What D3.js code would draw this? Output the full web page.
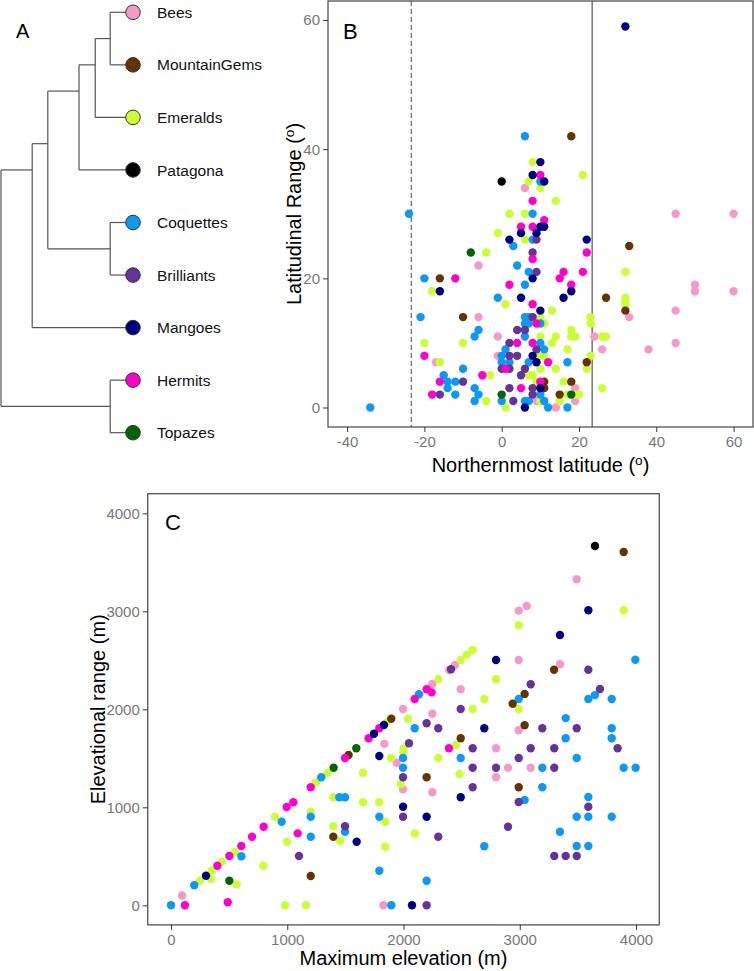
<!DOCTYPE html>
<html>
<head>
<meta charset="utf-8">
<script src="https://cdn.jsdelivr.net/npm/d3@7"></script>
<style>
  html, body { margin: 0; padding: 0; background: #fff; }
  svg { display: block; }
  text { font-family: "Liberation Sans", Arial, sans-serif; }
</style>
</head>
<body>
<svg id="chart" width="754" height="971"></svg>
<script>
// ---------------- DATA ----------------
const cladeNames  = ["Bees","MountainGems","Emeralds","Patagona","Coquettes","Brilliants","Mangoes","Hermits","Topazes"];
const cladeColors = ["#f799c8","#663300","#ccff33","#000000","#0a99f5","#663399","#000080","#ff00cc","#006600"];

// tree: [node, parent, age]
const treeNodes = [
  ["root", null, 22], ["n1", "root", 16.8], ["n2", "n1", 14.2], ["n3", "n2", 9.0],
  ["n4", "n3", 6.3], ["n5", "n4", 3.8], ["n6", "n2", 3.8], ["n7", "root", 3.8],
  ["Bees", "n5", 0], ["MountainGems", "n5", 0], ["Emeralds", "n4", 0], ["Patagona", "n3", 0],
  ["Coquettes", "n6", 0], ["Brilliants", "n6", 0], ["Mangoes", "n1", 0],
  ["Hermits", "n7", 0], ["Topazes", "n7", 0]
];

// Panel B: [northernmost latitude, latitudinal range]
const latBees = [[6,34],[45,30],[60,30],[-6,22],[50,19],[50,18],[60,18],[45,15],[-6,14],[33,14],[-1,11],[24,11],[45,10],[26,9],[38,9],[-1,8],[-17,7],[19,3],[9,1],[19,1],[14,0]];
const latMountainGems = [[18,42],[33,25],[-16,20],[27,17],[32,15],[-10,14],[22,7],[11,4],[18,4],[11,3],[15,2]];
const latEmeralds = [[8,38],[21,36],[7,35],[10,34],[14,32],[2,30],[6,30],[-1,27],[6,26],[-4,24],[32,21],[-18,18],[32,17],[1,16],[32,16.4],[32,15.8],[13,15],[10,14],[23,14],[11,13],[23,13],[18,12],[10,11],[14,11],[18,11],[19,11],[26,11],[27,11],[-20,10],[-10,10],[13,10],[17,9],[10,8],[11,8],[23,8],[-16,7],[10,6],[14,6],[22,6],[-3,5],[7,5],[8,5],[9,4],[16,4],[26,3],[17,2],[19,2],[20,2],[-4,1],[10,1],[15,1],[1,0]];
const latPatagona = [[0,35]];
const latCoquettes = [[-24,30],[6,42],[10,35],[8,30],[8,26],[3,25],[4,22],[7,21],[-20,20],[6,19],[-1,17],[-21,14],[6,14],[7,14],[6,13],[7,13],[10,13],[-6,12],[-7,11],[6,11],[10,10],[1,9],[11,9],[0,8],[0,7],[2,7],[7,7],[17,7],[-10,6],[-15,5],[-14,4],[-12,4],[-14,3],[-7,3],[-12,2],[-6,2],[10,2],[-7,1],[0,1],[6,1],[7,1],[11,1],[-34,0],[12,0],[17,0]];
const latBrilliants = [[9,26],[8,24],[9,21],[8,14],[4,12],[6,12],[2,10],[9,9],[2,8],[4,8],[0,6],[2,6],[6,6],[5,5],[-10,4],[2,3],[8,3],[-16,2],[8,2],[3,1]];
const latMangoes = [[32,59],[10,38],[8,36],[11,35],[10,28],[11,28],[5,27],[9,27],[2,26],[22,26],[8,20],[-16,18],[18,18],[5,17],[16,17],[10,15],[8,8],[9,7],[10,3],[6,0]];
const latHermits = [[10,36],[8,32],[11,29],[5,28],[8,28],[22,24],[8,23],[16,21],[21,21],[-12,20],[15,20],[2,19],[18,19],[8,16],[9,13],[4,10],[8,10],[-20,8],[12,7],[1,6],[-5,5],[-16,4],[10,4],[5,3],[-18,2]];
const latTopazes = [[-8,24],[0,2],[18,2]];
const tropicLines = [-23.4, 23.4];

// Panel C: [maximum elevation, elevational range]
const elevBees = [[95,100],[1827,0],[1835,1647],[1941,1455],[1996,2003],[1996,1184],[2248,1955],[2248,2258],[2248,1153],[2443,2452],[2394,2401],[2492,2204],[2796,1602],[2796,1306],[2899,1404],[2991,1786],[2991,2503],[2991,3007],[3060,3054],[3094,1404],[3346,2459],[3490,3327]];
const elevMountainGems = [[1202,299],[1396,700],[1528,1534],[1895,1904],[2199,1306],[2492,1704],[2939,2057],[2991,1204],[3042,2156],[3042,1837],[3295,2404],[3894,3605]];
const elevEmeralds = [[249,251],[344,268],[350,353],[437,444],[551,547],[565,214],[794,404],[895,904],[981,0],[1161,0],[998,649],[1202,955],[1247,1255],[1348,1353],[1396,1102],[1396,806],[1454,659],[1652,1353],[1652,1051],[1792,1051],[1843,853],[1843,598],[1860,1870],[1892,1503],[2000,1600],[2000,1560],[1976,1238],[2039,1904],[2096,734],[2299,2306],[2299,1503],[2452,1636],[2483,1340],[2492,2503],[2544,2558],[2595,2605],[2595,2003],[2695,2105],[2796,2306],[2991,2003],[2991,2857],[3894,3010]];
const elevPatagona = [[3647,3666]];
const elevCoquettes = [[0,0],[200,204],[605,500],[952,853],[1202,904],[1202,700],[1293,1306],[1448,1102],[1497,1102],[1497,751],[1792,904],[1792,353],[1895,0],[1996,1503],[1996,1404],[2096,1806],[2133,2153],[2199,251],[2492,1503],[2695,602],[2991,2105],[3042,1074],[3194,1404],[3194,1204],[3346,751],[3395,1910],[3395,1704],[3490,1503],[3490,904],[3490,605],[3590,2105],[3590,1105],[3590,904],[3590,605],[3647,2145],[3791,2105],[3791,1806],[3791,1704],[3791,904],[3894,1404],[3997,1404],[3994,2506]];
const elevBrilliants = [[1101,503],[1497,806],[1996,1306],[1996,904],[2047,1653],[2199,1857],[2199,0],[2299,1806],[2299,700],[2409,2409],[2492,2003],[2595,1602],[2595,1404],[2595,1204],[2796,1404],[2899,802],[2991,1503],[2991,1054],[3094,2255],[3094,1602],[3194,1806],[3297,1602],[3297,1404],[3297,503],[3395,503],[3490,503],[3490,1806],[3590,2404],[3590,1006],[3690,2207],[3842,1602]];
const elevMangoes = [[301,302],[1597,649],[1746,1751],[1792,1523],[1832,1840],[1996,1006],[2073,0],[2199,904],[2492,1102],[2695,1806],[2796,2503],[3346,2758],[3590,3010]];
const elevHermits = [[120,0],[399,404],[488,31],[502,503],[605,605],[697,700],[797,802],[995,1003],[1052,1051],[1090,734],[1202,1204],[1497,1503],[1700,1704],[1792,1806],[2096,2105],[2199,2204],[2242,2173],[2391,1602]];
const elevTopazes = [[502,251],[1399,1404],[1594,1602]];

const latTicksX = [-40,-20,0,20,40,60];
const latTicksY = [0,20,40,60];
const elevTicks = [0,1000,2000,3000,4000];

// ---------------- DRAW ----------------
const svg = d3.select("#chart");
const color = d3.scaleOrdinal().domain(cladeNames).range(cladeColors);
const drawOrder = ["Bees","Emeralds","Coquettes","Brilliants","MountainGems","Hermits","Mangoes","Topazes","Patagona"];
const latSets = {Bees:latBees, MountainGems:latMountainGems, Emeralds:latEmeralds, Patagona:latPatagona, Coquettes:latCoquettes, Brilliants:latBrilliants, Mangoes:latMangoes, Hermits:latHermits, Topazes:latTopazes};
const elevSets = {Bees:elevBees, MountainGems:elevMountainGems, Emeralds:elevEmeralds, Patagona:elevPatagona, Coquettes:elevCoquettes, Brilliants:elevBrilliants, Mangoes:elevMangoes, Hermits:elevHermits, Topazes:elevTopazes};
const flatten = sets => drawOrder.flatMap(g => sets[g].map(d => ({g, x: d[0], y: d[1]})));

// ---- Panel A: tree ----
const gA = svg.append("g");
const root = d3.stratify().id(d => d[0]).parentId(d => d[1])(treeNodes);
const ageScale = d3.scaleLinear().domain([22, 0]).range([1, 133]);
const leafY = d3.scalePoint().domain(cladeNames).range([12.3, 432.7]);
root.each(n => {
  n.px = ageScale(n.data[2]);
  n.py = d3.mean(n.leaves(), l => leafY(l.id));
});
const lineCol = "#555";
root.descendants().forEach(n => {
  if (n.parent) {
    gA.append("line").attr("x1", n.parent.px).attr("x2", n.px).attr("y1", n.py).attr("y2", n.py)
      .attr("stroke", lineCol).attr("stroke-width", 1.2);
  }
  if (n.children) {
    const ys = n.children.map(c => c.py);
    gA.append("line").attr("x1", n.px).attr("x2", n.px).attr("y1", d3.min(ys)).attr("y2", d3.max(ys))
      .attr("stroke", lineCol).attr("stroke-width", 1.2);
  }
});
const leaves = root.leaves();
gA.selectAll("circle.leaf").data(leaves).join("circle")
  .attr("cx", d => d.px).attr("cy", d => d.py).attr("r", 7.3)
  .attr("fill", d => color(d.id)).attr("stroke", "#333").attr("stroke-width", 1);
gA.selectAll("text.leaf").data(leaves).join("text")
  .attr("x", d => d.px + 24).attr("y", d => d.py).attr("dy", "0.36em")
  .attr("font-size", 15.5).attr("fill", "#111").text(d => d.id);
gA.append("text").attr("x", 16).attr("y", 38).attr("font-size", 20).text("A");

// helper for degree titles
function degTitle(sel, label) {
  sel.append("tspan").text(label + " (");
  sel.append("tspan").attr("font-size", "0.68em").attr("dy", "-0.55em").text("o");
  sel.append("tspan").attr("dy", "0.37em").text(")");
}

function styleAxis(g) {
  g.select(".domain").remove();
  g.selectAll(".tick line").attr("stroke", "#333").attr("stroke-width", 1);
  g.selectAll(".tick text").attr("fill", "#777").attr("font-size", 15)
    .attr("font-family", "'Liberation Sans', Arial, sans-serif");
}

// ---- Panel B ----
const bL = 328, bR = 753, bT = 1, bB = 427;
const xB = d3.scaleLinear().domain([-44.94, 65.02]).range([bL, bR]);
const yB = d3.scaleLinear().domain([-3.02, 62.95]).range([bB, bT]);
const gB = svg.append("g");
gB.append("rect").attr("x", bL).attr("y", bT).attr("width", bR - bL).attr("height", bB - bT)
  .attr("fill", "none").attr("stroke", "#444").attr("stroke-width", 1.2);
gB.append("line").attr("x1", xB(tropicLines[0])).attr("x2", xB(tropicLines[0])).attr("y1", bT).attr("y2", bB)
  .attr("stroke", "#555").attr("stroke-dasharray", "5,3").attr("stroke-width", 1.1);
gB.append("line").attr("x1", xB(tropicLines[1])).attr("x2", xB(tropicLines[1])).attr("y1", bT).attr("y2", bB)
  .attr("stroke", "#444").attr("stroke-width", 1.1);
gB.append("g").attr("transform", `translate(0,${bB})`)
  .call(d3.axisBottom(xB).tickValues(latTicksX).tickFormat(d => String(d)).tickSize(5).tickPadding(4))
  .call(styleAxis);
gB.append("g").attr("transform", `translate(${bL},0)`)
  .call(d3.axisLeft(yB).tickValues(latTicksY).tickFormat(d => String(d)).tickSize(5).tickPadding(3))
  .call(styleAxis);
gB.selectAll("circle.pt").data(flatten(latSets)).join("circle").attr("class", "pt")
  .attr("cx", d => xB(d.x)).attr("cy", d => yB(d.y)).attr("r", 4.2).attr("fill", d => color(d.g));
gB.append("text").attr("x", 343).attr("y", 39).attr("font-size", 22).text("B");
degTitle(gB.append("text").attr("x", (bL + bR) / 2).attr("y", 472).attr("text-anchor", "middle")
  .attr("font-size", 20).attr("fill", "#000"), "Northernmost latitude");
degTitle(gB.append("text").attr("transform", `translate(301,${(bT + bB) / 2}) rotate(-90)`).attr("text-anchor", "middle")
  .attr("font-size", 20).attr("fill", "#000"), "Latitudinal Range");

// ---- Panel C ----
const cL = 147.75, cR = 659.25, cT = 493.7, cB = 924.9;
const xC = d3.scaleLinear().domain([-200, 4200]).range([cL, cR]);
const yC = d3.scaleLinear().domain([-200, 4200]).range([cB, cT]);
const gC = svg.append("g");
gC.append("rect").attr("x", cL).attr("y", cT).attr("width", cR - cL).attr("height", cB - cT)
  .attr("fill", "none").attr("stroke", "#444").attr("stroke-width", 1.2);
gC.append("g").attr("transform", `translate(0,${cB})`)
  .call(d3.axisBottom(xC).tickValues(elevTicks).tickFormat(d => String(d)).tickSize(5).tickPadding(4))
  .call(styleAxis);
gC.append("g").attr("transform", `translate(${cL},0)`)
  .call(d3.axisLeft(yC).tickValues(elevTicks).tickFormat(d => String(d)).tickSize(5).tickPadding(3))
  .call(styleAxis);
gC.selectAll("circle.pt").data(flatten(elevSets)).join("circle").attr("class", "pt")
  .attr("cx", d => xC(d.x)).attr("cy", d => yC(d.y)).attr("r", 4.2).attr("fill", d => color(d.g));
gC.append("text").attr("x", 165).attr("y", 530).attr("font-size", 22).text("C");
gC.append("text").attr("x", (cL + cR) / 2).attr("y", 965).attr("text-anchor", "middle")
  .attr("font-size", 20).text("Maximum elevation (m)");
gC.append("text").attr("transform", `translate(105,${(cT + cB) / 2}) rotate(-90)`).attr("text-anchor", "middle")
  .attr("font-size", 20).text("Elevational range (m)");
</script>
</body>
</html>
